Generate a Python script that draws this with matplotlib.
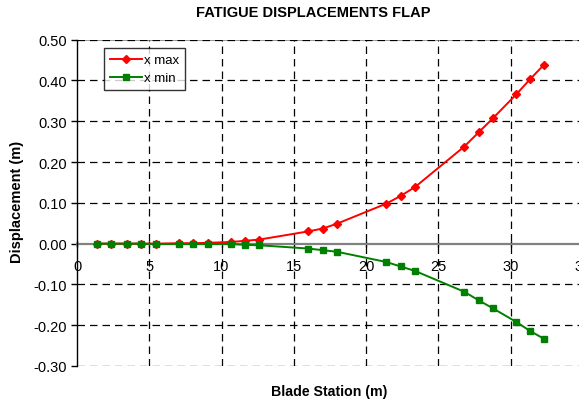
import matplotlib
matplotlib.use("Agg")
import matplotlib.pyplot as plt

plt.rcParams['font.family'] = ['Liberation Sans', 'DejaVu Sans']

station = [1.36, 2.33, 3.44, 4.43, 5.45, 7.06, 8.05, 9.04, 10.63, 11.65, 12.62,
           16.0, 17.0, 18.0, 21.4, 22.4, 23.4, 26.8, 27.8, 28.8, 30.4, 31.35, 32.3]
x_max = [0.000, 0.000, 0.000, 0.000, 0.000, 0.001, 0.001, 0.002, 0.004, 0.007, 0.010,
         0.030, 0.037, 0.049, 0.098, 0.117, 0.139, 0.238, 0.273, 0.308, 0.366, 0.403, 0.438]
x_min = [0.000, 0.000, 0.000, 0.000, -0.001, -0.001, -0.001, -0.001, -0.001, -0.003, -0.004,
         -0.012, -0.016, -0.020, -0.045, -0.056, -0.067, -0.118, -0.139, -0.159, -0.192, -0.214, -0.233]
x_ticks = [0, 5, 10, 15, 20, 25, 30, 35]
y_ticks = [-0.30, -0.20, -0.10, 0.00, 0.10, 0.20, 0.30, 0.40, 0.50]

W, H = 579, 402
fig = plt.figure(figsize=(W/100, H/100), dpi=100)
left = 77 / W
right_px = 77 + 35 * 14.45
ax = fig.add_axes([left, 35 / H, (right_px - 77) / W, (367 - 40.7) / H])

ax.set_xlim(0, 35)
ax.set_ylim(-0.30, 0.50)

# grid
for xv in x_ticks[1:]:
    ax.axvline(xv, color='black', lw=0.9, ls=(0, (6, 4)), zorder=1)
for yv in y_ticks:
    if yv != 0:
        ax.axhline(yv, color='black', lw=0.9, ls=(0, (6, 4)), zorder=1)
ax.axhline(0.50, color='#888888', lw=0.6, zorder=0.5)
ax.axhline(-0.30, color='#888888', lw=0.6, zorder=0.5)

ax.plot(station, x_max, color='#FF0000', lw=1.4, marker='D', ms=4.2,
        label='x max', zorder=3)
ax.plot(station, x_min, color='#008000', lw=1.4, marker='s', ms=4.6,
        label='x min', zorder=4)

for s in ['top', 'right']:
    ax.spines[s].set_visible(False)
ax.spines['bottom'].set_position(('data', 0))
ax.spines['bottom'].set_color('#808080')
ax.spines['bottom'].set_linewidth(1.6)
ax.spines['bottom'].set_zorder(2)
ax.spines['left'].set_color('black')
ax.spines['left'].set_linewidth(1.0)

ax.set_xticks(x_ticks)
ax.set_xticklabels([str(v) for v in x_ticks])
ax.set_yticks(y_ticks)
ax.set_yticklabels(['%.2f' % v for v in y_ticks])
ax.tick_params(axis='y', direction='out', length=4, width=1, labelsize=10.5, pad=3)
ax.tick_params(axis='x', direction='inout', length=5, width=1, colors='black',
               labelsize=10.5, pad=8.5)

fig.text(313 / W, 1 - 13 / H, 'FATIGUE DISPLACEMENTS FLAP',
         ha='center', va='center', fontsize=10.5, fontweight='bold')
fig.text(17 / W, 1 - 202 / H, 'Displacement (m)', rotation=90,
         ha='center', va='center', fontsize=10.5, fontweight='bold')
fig.text(329 / W, 1 - 392 / H, 'Blade Station (m)',
         ha='center', va='center', fontsize=10.2, fontweight='bold')

leg = ax.legend(loc='upper left', bbox_to_anchor=((104 - 77) / (right_px - 77), 1 - (49 - 40.7) / (367 - 40.7)),
                frameon=True, fancybox=False, fontsize=9.5, borderaxespad=0,
                handlelength=2.4, handletextpad=0.15, borderpad=0.45, labelspacing=0.45,
                handleheight=0.7)
leg.get_frame().set_edgecolor('black')
leg.get_frame().set_linewidth(1.0)

fig.savefig('out.png', dpi=100)
